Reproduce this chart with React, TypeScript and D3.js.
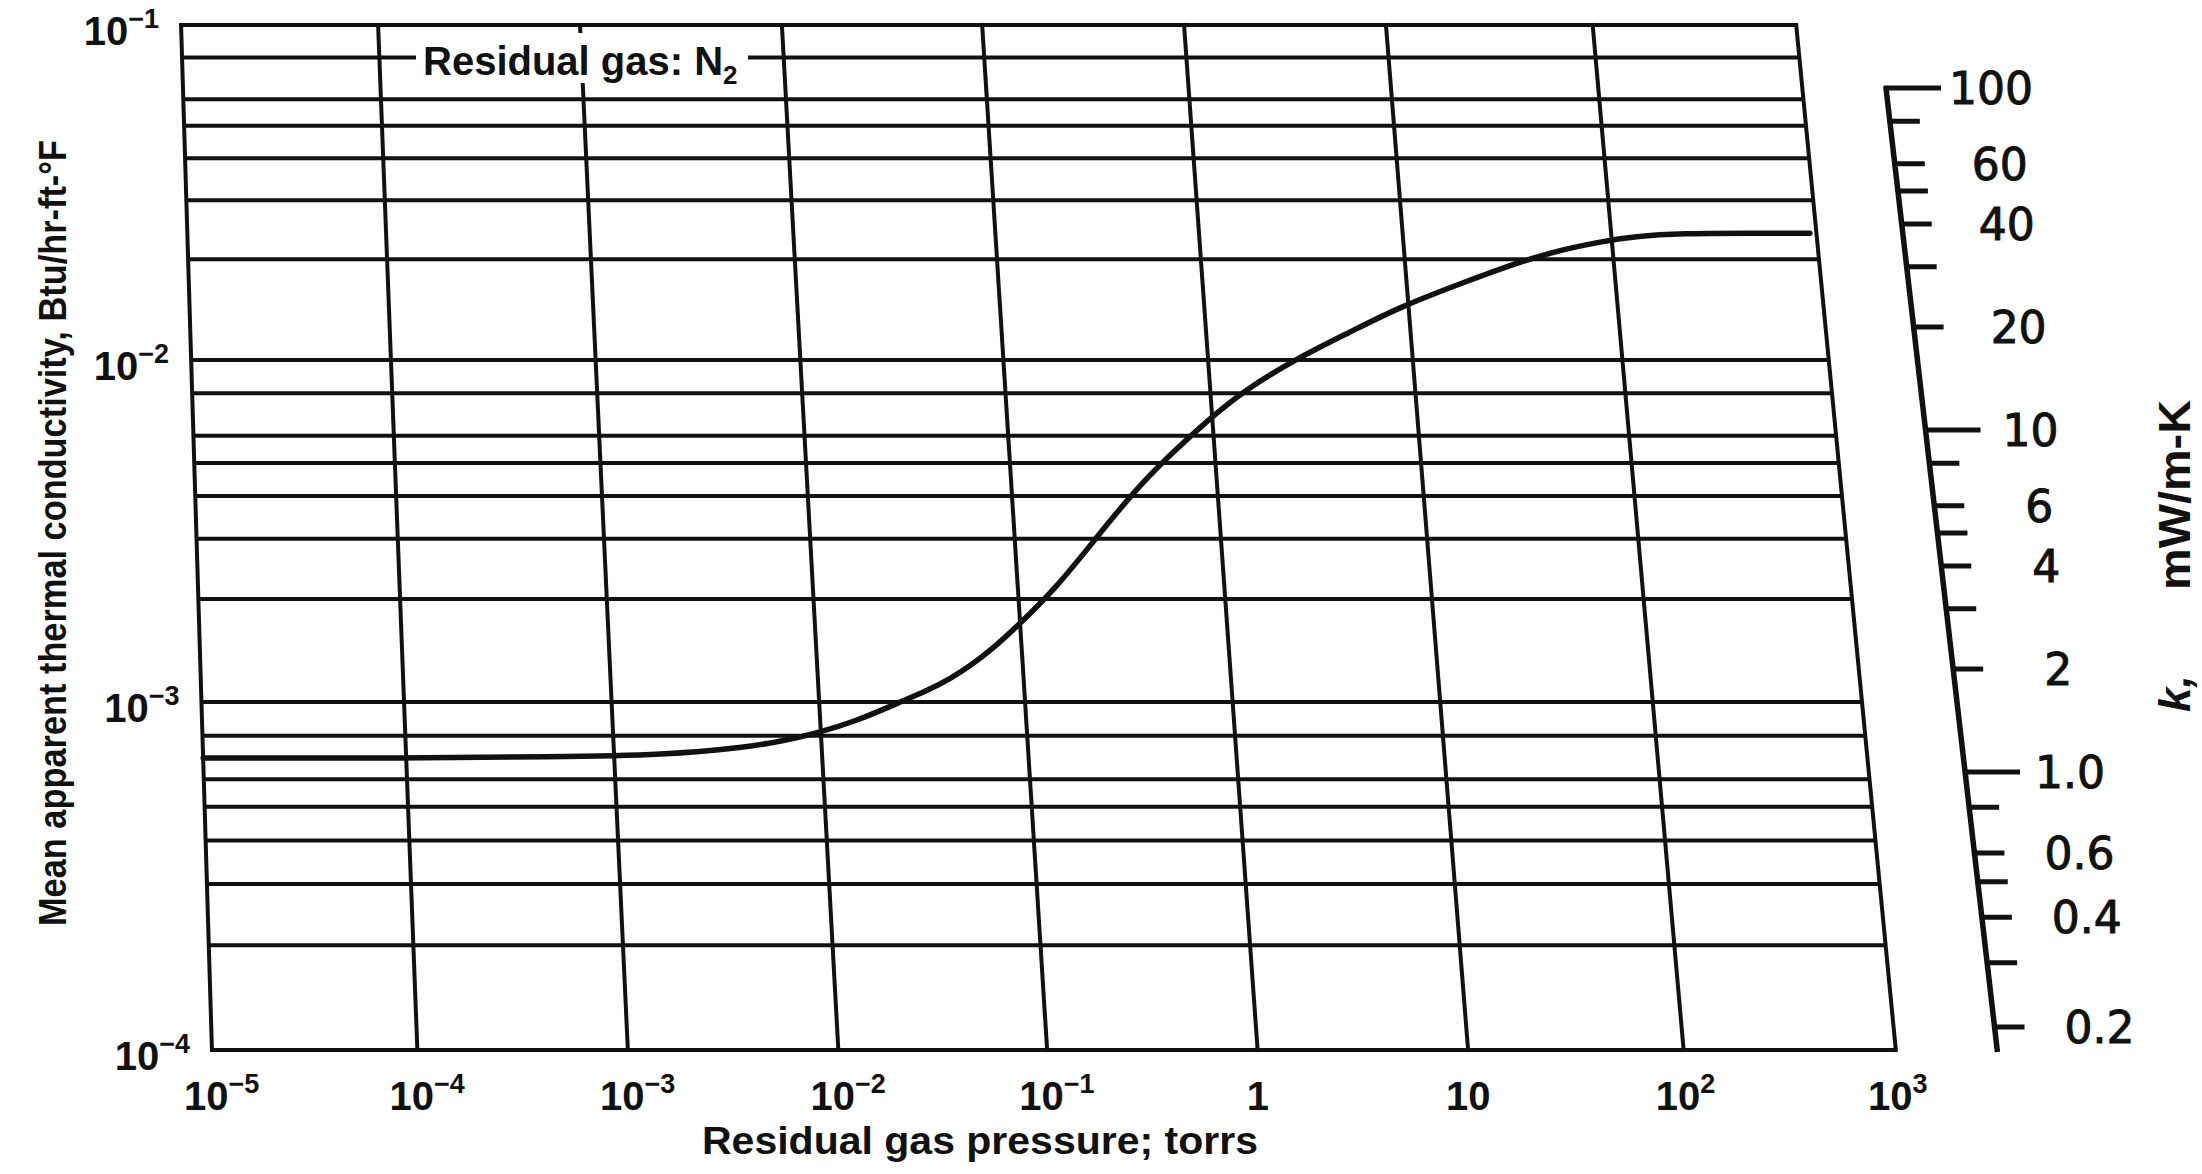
import React from 'react';
import * as d3 from 'd3';

// ---- data ----
// residual gas pressure (torr)
const pressure = [1e-5, 1e-4, 5e-4, 1.8e-3, 4.2e-3, 6.4e-3, 9.7e-3, 1.48e-2, 2.29e-2, 3.5e-2, 4.4e-2, 5.5e-2, 7.2e-2, 9.6e-2, 0.153, 0.258, 0.404, 0.598, 0.93, 1.44, 2.71, 5.04, 9.05, 19.5, 37, 58, 91, 128, 224, 473, 930];
// mean apparent thermal conductivity (Btu/hr-ft-°F)
const conductivity = [6.9e-4, 6.9e-4, 6.95e-4, 7.05e-4, 7.4e-4, 7.7e-4, 8.15e-4, 8.8e-4, 9.8e-4, 1.09e-3, 1.17e-3, 1.27e-3, 1.43e-3, 1.66e-3, 2.15e-3, 3.1e-3, 4.2e-3, 5.25e-3, 6.6e-3, 8.1e-3, 1.01e-2, 1.21e-2, 1.44e-2, 1.72e-2, 1.98e-2, 2.14e-2, 2.26e-2, 2.34e-2, 2.39e-2, 2.39e-2, 2.39e-2];

const xDecades = [1e-5, 1e-4, 1e-3, 1e-2, 1e-1, 1, 10, 100, 1000];
const xTickBase = ['10', '10', '10', '10', '10', '1', '10', '10', '10'];
const xTickExp = ['\u22125', '\u22124', '\u22123', '\u22122', '\u22121', '', '', '2', '3'];
const yDecades = [1e-4, 1e-3, 1e-2, 1e-1];
const yTickExp = ['\u22124', '\u22123', '\u22122', '\u22121'];
const gridMantissas = [1, 2, 3, 4, 5, 6, 8];

const rightTicks = [100, 80, 60, 50, 40, 30, 20, 10, 8, 6, 5, 4, 3, 2, 1, 0.8, 0.6, 0.5, 0.4, 0.3, 0.2];
const rightMajor = [100, 10, 1];
const rightLabelValues = [100, 60, 40, 20, 10, 6, 4, 2, 1, 0.6, 0.4, 0.2];
const rightLabelText = ['100', '60', '40', '20', '10', '6', '4', '2', '1.0', '0.6', '0.4', '0.2'];

// ---- geometry of the (skewed, scanned) plot frame ----
const W = 2202, H = 1174;
const TOP = 25, BOTTOM = 1050;
const TL = 181, TR = 1796, BL = 212, BR = 1896;
const INK = '#111';

const yScale = d3.scaleLog().domain(yDecades).range([1050, 702, 360, 25]);
const xFrac = d3.scaleLog().domain(xDecades).range([0, 0.122, 0.247, 0.372, 0.496, 0.621, 0.746, 0.874, 1]);
const edgeL = (y: number) => TL + (BL - TL) * (y - TOP) / (BOTTOM - TOP);
const edgeR = (y: number) => TR + (BR - TR) * (y - TOP) / (BOTTOM - TOP);
const px = (p: number, y: number) => edgeL(y) + xFrac(p) * (edgeR(y) - edgeL(y));

const rScale = d3.scaleLog().domain([100, 10, 1, 0.2]).range([88, 430, 772, 1027]);
const axisX = (y: number) => 1886 + (y - 88) * 0.1156;

const FONT = '"Liberation Sans", Arial, sans-serif';

export default function App() {
  const hLines: number[] = [];
  yDecades.slice(0, 3).forEach(d => gridMantissas.forEach(m => hLines.push(d * m)));
  hLines.push(1e-1);

  const pts: [number, number][] = pressure.map((p, i) => {
    const y = yScale(conductivity[i]);
    return [px(p, y), y];
  });
  const line = d3.line().curve(d3.curveBasis);

  return (
    <svg width={W} height={H} style={{ position: 'absolute', left: 0, top: 0, background: '#fff' }}>
      <rect x={0} y={0} width={W} height={H} fill="#fff" />
      {/* horizontal grid */}
      {hLines.map((k, i) => {
        const y = yScale(k);
        return <line key={'h' + i} x1={edgeL(y)} x2={edgeR(y)} y1={y} y2={y} stroke={INK} strokeWidth={4} />;
      })}
      {/* vertical grid */}
      {xDecades.map((p, i) => (
        <line key={'v' + i} x1={px(p, TOP)} y1={TOP - 2} x2={px(p, BOTTOM)} y2={BOTTOM + 2} stroke={INK} strokeWidth={4} />
      ))}
      {/* in-plot label */}
      <rect x={416} y={33} width={332} height={50} fill="#fff" />
      <text x={423} y={75} fontFamily={FONT} fontWeight="bold" fontSize={40} fill={INK}>
        Residual gas: N<tspan fontSize={26} dy={9}>2</tspan>
      </text>
      {/* curve */}
      <path d={line(pts) || ''} fill="none" stroke={INK} strokeWidth={5.5} strokeLinecap="round" />
      {/* left tick labels */}
      {yDecades.map((d, i) => {
        const y = yScale(d);
        return (
          <text key={'yl' + i} x={edgeL(y) - 22} y={y + 20} textAnchor="end" fontFamily={FONT} fontWeight="bold" fontSize={40} fill={INK}>
            10<tspan fontSize={27} dy={-17}>{yTickExp[i]}</tspan>
          </text>
        );
      })}
      {/* bottom tick labels */}
      {xDecades.map((p, i) => {
        const x = px(p, BOTTOM);
        const hasExp = xTickExp[i] !== '';
        return (
          <text key={'xl' + i} x={hasExp ? x - 28 : x} y={1110} textAnchor={hasExp ? 'start' : 'middle'} fontFamily={FONT} fontWeight="bold" fontSize={40} fill={INK}>
            {xTickBase[i]}
            {hasExp && <tspan fontSize={27} dy={-17}>{xTickExp[i]}</tspan>}
          </text>
        );
      })}
      {/* axis titles */}
      <text x={702} y={1154} fontFamily={FONT} fontWeight="bold" fontSize={38} fill={INK} textLength={556} lengthAdjust="spacingAndGlyphs">
        Residual gas pressure; torrs
      </text>
      <text transform="translate(66,533) rotate(-90)" textAnchor="middle" fontFamily={FONT} fontWeight="bold" fontSize={39} fill={INK} textLength={786} lengthAdjust="spacingAndGlyphs">
        Mean apparent thermal conductivity, Btu/hr-ft-°F
      </text>
      {/* right SI scale */}
      <line x1={axisX(86)} y1={86} x2={axisX(1052)} y2={1052} stroke={INK} strokeWidth={5.5} />
      {rightTicks.map((v, i) => {
        const y = rScale(v);
        const len = rightMajor.includes(v) ? 55 : 30;
        return <line key={'rt' + i} x1={axisX(y) - 2} x2={axisX(y) + len} y1={y} y2={y} stroke={INK} strokeWidth={5} />;
      })}
      {rightLabelValues.map((v, i) => {
        const y = rScale(v);
        return (
          <text key={'rl' + i} x={axisX(y) + 105} y={y} dy="0.36em" textAnchor="middle" fontFamily='"DejaVu Sans", sans-serif' fontSize={44} fill={INK} stroke={INK} strokeWidth={1}>
            {rightLabelText[i]}
          </text>
        );
      })}
      <text transform="translate(2190,590) rotate(-90)" fontFamily={FONT} fontWeight="bold" fontSize={44} fill={INK} textLength={190} lengthAdjust="spacingAndGlyphs">
        mW/m-K
      </text>
      <text transform="translate(2190,712) rotate(-90)" fontFamily={FONT} fontWeight="bold" fontStyle="italic" fontSize={44} fill={INK}>
        k,
      </text>
    </svg>
  );
}
